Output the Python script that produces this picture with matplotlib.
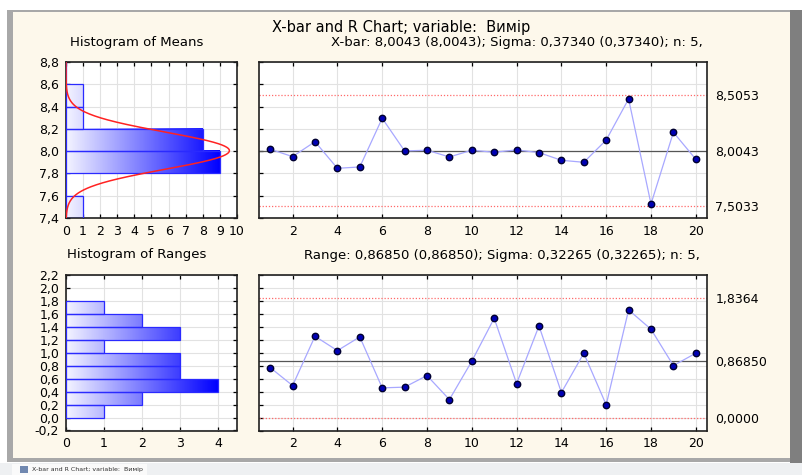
import numpy as np
import matplotlib
matplotlib.use("Agg")
import matplotlib.pyplot as plt
from matplotlib.patches import Rectangle
from matplotlib.colors import LinearSegmentedColormap

# ── Data read from the STATISTICA X-bar / R chart ─────────────────
samples = list(range(1, 21))
xbar_values = [8.017, 7.951, 8.085, 7.846, 7.858, 8.295, 8.002, 8.008, 7.948, 8.008,
               7.990, 8.011, 7.987, 7.918, 7.900, 8.100, 8.468, 7.526, 8.169, 7.927]
range_values = [0.768, 0.491, 1.250, 1.029, 1.240, 0.456, 0.467, 0.645, 0.276, 0.866,
                1.527, 0.522, 1.409, 0.384, 0.989, 0.195, 1.655, 1.358, 0.799, 0.989]

mean_bin_edges = [7.4, 7.6, 7.8, 8.0, 8.2, 8.4, 8.6, 8.8]
mean_counts = [1, 0, 9, 8, 1, 1, 0]
range_bin_edges = [0.0, 0.2, 0.4, 0.6, 0.8, 1.0, 1.2, 1.4, 1.6, 1.8]
range_counts = [1, 2, 4, 3, 3, 1, 3, 2, 1]

XBAR_CL, XBAR_UCL, XBAR_LCL = 8.0043, 8.5053, 7.5033
XBAR_SIGMA = 0.37340
R_CL, R_UCL, R_LCL = 0.86850, 1.8364, 0.0
R_SIGMA = 0.32265
N_SUB = 5

xbar_right_labels = ["7,5033", "8,0043", "8,5053"]
r_right_labels = ["0,0000", "0,86850", "1,8364"]

# ── Figure geometry (pixels of the original screenshot) ───────────
W, H = 803, 475
CREAM = "#fdf8eb"
plt.rcParams["font.family"] = ["DejaVu Sans"]
plt.rcParams["font.size"] = 9

fig = plt.figure(figsize=(W / 100, H / 100), dpi=100)
fig.patch.set_facecolor("white")


def rect_px(x0, y0, x1, y1, color, z=-10):
    fig.patches.append(Rectangle((x0 / W, 1 - y1 / H), (x1 - x0) / W, (y1 - y0) / H,
                                 transform=fig.transFigure, facecolor=color,
                                 edgecolor="none", zorder=z))


def axes_px(x0, y0, x1, y1):
    return fig.add_axes([x0 / W, 1 - y1 / H, (x1 - x0) / W, (y1 - y0) / H])


def comma(v, fmt):
    return (fmt % v).replace(".", ",")


# window chrome
rect_px(7, 10, 790, 462, "#a8a8a8")
rect_px(13, 12, 790, 458, CREAM)
rect_px(790, 10, W, 463, "#7f7f7f")
rect_px(0, 463, W, H, "#eef0f2")
rect_px(12, 464, 147, H, "#fafafa")
rect_px(20, 466, 28, 473, "#7088b0")
fig.text(32 / W, 1 - 470 / H, "X-bar and R Chart; variable:  Вимір", fontsize=4.5,
         color="#303030", va="center", ha="left")

grad_cmap = LinearSegmentedColormap.from_list("hist", ["#f4f4ff", "#0000ff"])


def style_axes(ax):
    ax.set_facecolor("white")
    ax.grid(True, color="#e2e2e2", lw=0.8)
    ax.set_axisbelow(True)
    ax.tick_params(direction="in", length=3, width=0.9, top=True, right=True,
                   labelsize=9, pad=5, colors="black")
    for sp in ax.spines.values():
        sp.set_linewidth(1.2)
        sp.set_color("#202020")


def gradient_hist(ax, edges, counts):
    vmax = max(counts)
    for y0, y1, c in zip(edges[:-1], edges[1:], counts):
        if c == 0:
            continue
        grad = np.linspace(0, c / vmax, 256).reshape(1, -1)
        ax.imshow(grad, extent=[0, c, y0, y1], aspect="auto", cmap=grad_cmap,
                  vmin=0, vmax=1, origin="lower", zorder=2)
    ax.barh(edges[:-1], counts, height=np.diff(edges), align="edge", fill=False,
            edgecolor="#2a2aff", lw=0.9, zorder=3)


def control_chart(ax, values, cl, ucl, lcl, ylim, grid_ticks, right_labels):
    style_axes(ax)
    ax.plot(samples, values, color="#a8a8ff", lw=0.9, zorder=3)
    ax.plot(samples, values, ls="none", marker="o", ms=4.6, mfc="#0000b4",
            mec="#000030", mew=1.0, zorder=4)
    ax.axhline(cl, color="#555555", lw=0.9, zorder=2)
    for lim in (ucl, lcl):
        ax.axhline(lim, color="#ff6a6a", lw=0.9, ls=(0, (1, 1.5)), zorder=2)
    ax.set_xlim(0.5, 20.5)
    ax.set_xticks(range(2, 21, 2))
    ax.set_ylim(*ylim)
    ax.set_yticks(grid_ticks)
    ax.tick_params(axis="y", labelleft=False, labelright=False)
    sec = ax.twinx()
    sec.set_ylim(*ylim)
    sec.set_yticks([lcl, cl, ucl])
    sec.set_yticklabels(right_labels)
    sec.tick_params(direction="in", length=0, labelsize=9, pad=6)
    for sp in sec.spines.values():
        sp.set_visible(False)


# ── Histogram of Means ────────────────────────────────────────────
ax_h1 = axes_px(66, 62, 237, 218)
style_axes(ax_h1)
gradient_hist(ax_h1, mean_bin_edges, mean_counts)
yy = np.linspace(7.4, 8.8, 400)
s_mean = XBAR_SIGMA / np.sqrt(N_SUB)
bw = mean_bin_edges[1] - mean_bin_edges[0]
curve = len(xbar_values) * bw * np.exp(-0.5 * ((yy - XBAR_CL) / s_mean) ** 2) / (s_mean * np.sqrt(2 * np.pi))
ax_h1.plot(curve, yy, color="#ff2222", lw=1.1, zorder=4)
ax_h1.set_xlim(0, 10)
ax_h1.set_ylim(7.4, 8.8)
ax_h1.set_xticks(range(0, 11))
ax_h1.set_yticks(np.arange(7.4, 8.81, 0.2))
ax_h1.set_yticklabels([comma(v, "%.1f") for v in np.arange(7.4, 8.81, 0.2)])

# ── X-bar chart ───────────────────────────────────────────────────
ax_x = axes_px(259, 62, 707, 218)
control_chart(ax_x, xbar_values, XBAR_CL, XBAR_UCL, XBAR_LCL, (7.4, 8.8),
              np.arange(7.4, 8.81, 0.2), xbar_right_labels)

# ── Histogram of Ranges ───────────────────────────────────────────
ax_h2 = axes_px(66, 275, 237, 430.5)
style_axes(ax_h2)
gradient_hist(ax_h2, range_bin_edges, range_counts)
ax_h2.set_xlim(0, 4.5)
ax_h2.set_ylim(-0.2, 2.2)
ax_h2.set_xticks(range(0, 5))
r_ticks = np.arange(-0.2, 2.21, 0.2)
ax_h2.set_yticks(r_ticks)
ax_h2.set_yticklabels([comma(v + 0.0, "%.1f").replace("-0,0", "0,0") for v in r_ticks])

# ── Range chart ───────────────────────────────────────────────────
ax_r = axes_px(259, 274.5, 707, 430.5)
control_chart(ax_r, range_values, R_CL, R_UCL, R_LCL, (-0.2, 2.2), r_ticks, r_right_labels)

# ── Titles ────────────────────────────────────────────────────────
fig.text(272 / W, 1 - 27 / H, "X-bar and R Chart; variable:  Вимір", fontsize=10.5,
         ha="left", va="center")
fig.text(137 / W, 1 - 42.5 / H, "Histogram of Means", fontsize=9.5, ha="center", va="center")
fig.text(703 / W, 1 - 42.5 / H,
         "X-bar: %s (%s); Sigma: %s (%s); n: %d," % (
             comma(XBAR_CL, "%.4f"), comma(XBAR_CL, "%.4f"),
             comma(XBAR_SIGMA, "%.5f"), comma(XBAR_SIGMA, "%.5f"), N_SUB),
         fontsize=9.5, ha="right", va="center")
fig.text(137 / W, 1 - 254.5 / H, "Histogram of Ranges", fontsize=9.5, ha="center", va="center")
fig.text(700 / W, 1 - 255 / H,
         "Range: %s (%s); Sigma: %s (%s); n: %d," % (
             comma(R_CL, "%.5f"), comma(R_CL, "%.5f"),
             comma(R_SIGMA, "%.5f"), comma(R_SIGMA, "%.5f"), N_SUB),
         fontsize=9.5, ha="right", va="center")

fig.savefig("out.png", dpi=100)
